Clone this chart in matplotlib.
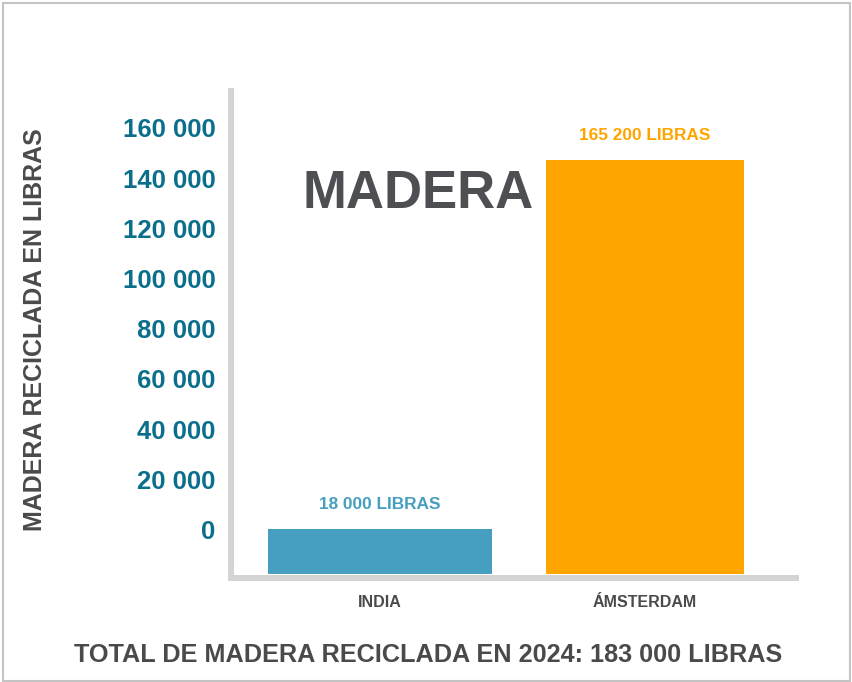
import matplotlib
matplotlib.use("Agg")
import matplotlib.pyplot as plt
from matplotlib.patches import Rectangle
import numpy as np

categories = ["INDIA", "ÁMSTERDAM"]
values = [18000, 165200]
value_labels = ["18 000 LIBRAS", "165 200 LIBRAS"]
tick_values = [0, 20000, 40000, 60000, 80000, 100000, 120000, 140000, 160000]
tick_labels = ["0", "20 000", "40 000", "60 000", "80 000", "100 000", "120 000", "140 000", "160 000"]
ylabel = "MADERA RECICLADA EN LIBRAS"
big_title = "MADERA"
footer = "TOTAL DE MADERA RECICLADA EN 2024: 183 000 LIBRAS"

bar_colors = ["#479fbf", "#ffa500"]
bar_widths = [0.845, 0.747]
tick_offset = 17800  # tick labels in reference are shifted

W, H = 853, 682
fig = plt.figure(figsize=(W / 100, H / 100), dpi=100)
plt.rcParams['font.family'] = ['Liberation Sans', 'DejaVu Sans']

# figure border
fig.patches.append(Rectangle((3 / W, 1 / H), (850 - 3) / W, (679 - 1) / H,
                             transform=fig.transFigure, fill=False,
                             edgecolor="#c4c4c4", linewidth=1.5))

ax = fig.add_axes([231 / W, 1 - 578 / H, (796 - 231) / W, (578 - 91) / H])
x = np.arange(len(categories))
ax.bar(x, values, width=bar_widths, color=bar_colors)
ax.set_xlim(-0.562, 1.570)
ax.set_ylim(-1500, 192500)

for s in ["top", "right"]:
    ax.spines[s].set_visible(False)
for s in ["left", "bottom"]:
    ax.spines[s].set_color("#d4d4d4")
    ax.spines[s].set_linewidth(4.3)
    ax.spines[s].set_capstyle("projecting")

ax.set_yticks(np.array(tick_values) + tick_offset)
ax.set_yticklabels(tick_labels, fontsize=18.5, fontweight="bold", color="#0b6f8c")
ax.tick_params(axis="y", length=0, pad=11)
ax.set_xticks(x)
ax.set_xticklabels(categories, fontsize=11.5, fontweight="bold", color="#4a4a4a")
ax.tick_params(axis="x", length=0, pad=12)

for xi, v, lab, c in zip(x, values, value_labels, bar_colors):
    ax.annotate(lab, (xi, v), xytext=(0, 12), textcoords="offset points",
                ha="center", va="bottom", fontsize=12.4, fontweight="bold", color=c)

fig.text(35 / W, 1 - 330 / H, ylabel, rotation=90, ha="center", va="center",
         fontsize=18, fontweight="bold", color="#4a4a4a")
fig.text(418 / W, 1 - 194 / H, big_title, ha="center", va="center",
         fontsize=38, fontweight="bold", color="#4d4f53")
fig.text(428 / W, 1 - 655 / H, footer, ha="center", va="center",
         fontsize=18.2, fontweight="bold", color="#4a4a4a")

fig.savefig("out.png", dpi=100, facecolor="white")
